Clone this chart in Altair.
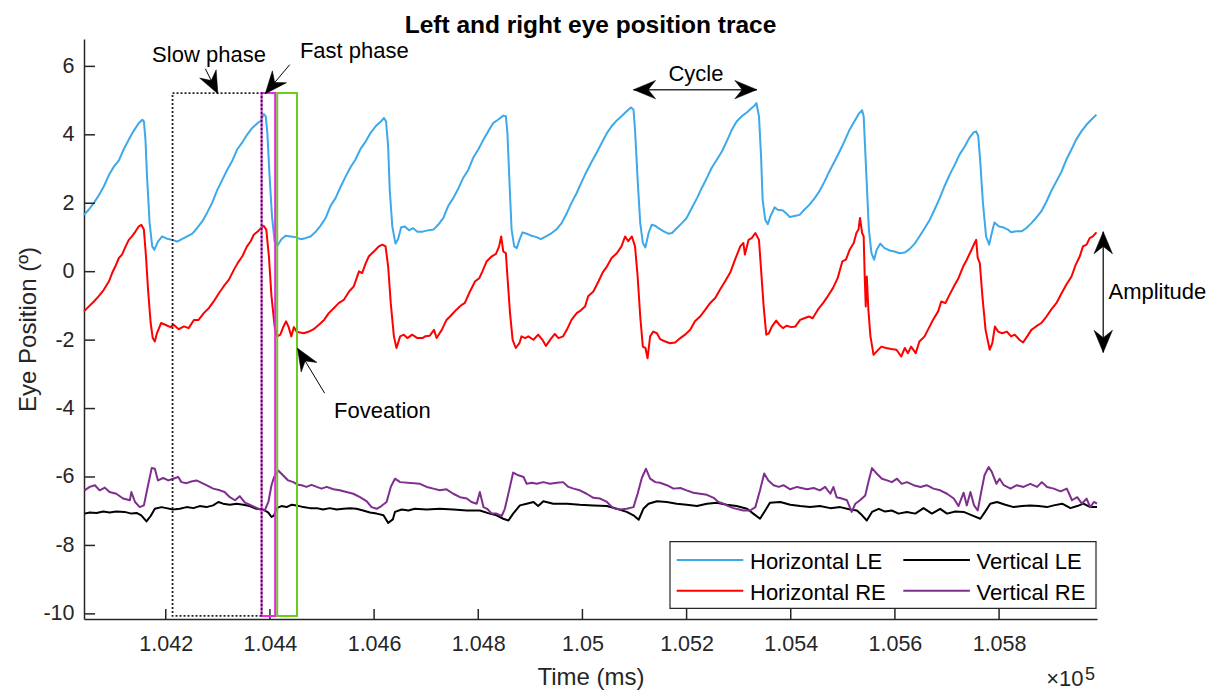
import altair as alt
import pandas as pd

FONT = "Liberation Sans"

# ---------------- data (time in ms, position in degrees) ----------------
HLE_T = [104043, 104052, 104062, 104071, 104081, 104091, 104100, 104110, 104119, 104129,
         104139, 104148, 104155, 104158, 104161, 104164, 104169, 104174, 104178, 104185,
         104193, 104203, 104212, 104222, 104231, 104241, 104251, 104260, 104270, 104279,
         104289, 104299, 104308, 104318, 104328, 104337, 104347, 104356, 104366, 104376,
         104383, 104388, 104392, 104395, 104399, 104404, 104409, 104415, 104422, 104430,
         104440, 104449, 104459, 104468, 104478, 104488, 104497, 104507, 104516, 104526,
         104536, 104545, 104555, 104564, 104574, 104584, 104593, 104603, 104613, 104619,
         104623, 104627, 104630, 104635, 104641, 104646, 104652, 104659, 104667, 104675,
         104683, 104693,
         104701, 104714, 104723, 104733, 104742, 104752, 104762, 104771, 104781, 104790,
         104800, 104810, 104819, 104829, 104838, 104848, 104853, 104856, 104860, 104864,
         104869, 104874, 104879, 104885, 104893, 104902, 104912, 104920, 104930, 104941,
         104951, 104960, 104970, 104979, 104989, 104999, 105008, 105018, 105027, 105037,
         105047, 105056, 105066, 105075, 105085, 105093, 105098, 105101, 105106, 105111,
         105116, 105121, 105127, 105133, 105140, 105146, 105156, 105165, 105172, 105181,
         105191, 105200, 105210, 105220, 105229, 105239, 105248, 105258, 105268, 105277,
         105287, 105296, 105306, 105316, 105325, 105332,
         105334, 105339, 105343, 105346, 105351, 105356, 105361, 105369, 105375, 105385,
         105391, 105398, 105407, 105417, 105426, 105436, 105446, 105455, 105465, 105474,
         105484, 105494, 105503, 105513, 105522, 105531, 105537, 105540, 105545, 105550,
         105555, 105560, 105565, 105572, 105580, 105590, 105599, 105609, 105619, 105628,
         105638, 105647, 105657, 105667, 105676, 105686, 105695, 105705, 105715, 105724,
         105734, 105743, 105751, 105756, 105760, 105764, 105769, 105775, 105781, 105786,
         105791, 105800, 105807, 105817, 105823, 105833, 105843, 105852, 105862, 105871,
         105881, 105891, 105900, 105910, 105920, 105929, 105939, 105948, 105958, 105968,
         105977, 105987]
HLE_V = [1.66, 1.81, 2.01, 2.22, 2.49, 2.83, 3.06, 3.25, 3.57, 3.86,
         4.13, 4.34, 4.44, 4.39, 3.86, 2.78, 1.42, 0.74, 0.64, 0.88,
         1.03, 0.96, 0.93, 0.88, 0.95, 1.03, 1.11, 1.27, 1.47, 1.71,
         2.01, 2.39, 2.67, 2.98, 3.25, 3.57, 3.78, 4.00, 4.20, 4.34,
         4.42, 4.61, 4.54, 4.05, 2.88, 1.61, 0.88, 0.77, 0.95, 1.05,
         1.03, 1.01, 0.95, 0.98, 1.03, 1.17, 1.34, 1.57, 1.91, 2.15,
         2.49, 2.77, 3.06, 3.27, 3.59, 3.81, 4.05, 4.25, 4.39, 4.49,
         4.39, 3.66, 2.39, 1.32, 0.82, 0.95, 1.30, 1.32, 1.21, 1.27,
         1.17, 1.17,
         1.20, 1.23, 1.37, 1.57, 1.91, 2.15, 2.44, 2.74, 2.98, 3.32,
         3.57, 3.86, 4.10, 4.35, 4.44, 4.56, 4.54, 4.05, 2.59, 1.23,
         0.74, 0.69, 0.93, 1.15, 1.11, 1.05, 1.01, 0.95, 1.03, 1.13,
         1.25, 1.42, 1.71, 2.01, 2.30, 2.64, 2.93, 3.22, 3.47, 3.76,
         4.05, 4.25, 4.42, 4.54, 4.69, 4.80, 4.74, 4.15, 2.69, 1.42,
         0.84, 0.71, 1.13, 1.37, 1.34, 1.27, 1.18, 1.11, 1.13, 1.27,
         1.42, 1.57, 1.86, 2.15, 2.44, 2.74, 3.03, 3.27, 3.52, 3.81,
         4.15, 4.39, 4.54, 4.66, 4.78, 4.88,
         4.93, 4.54, 3.37, 2.10, 1.52, 1.39, 1.62, 1.88, 1.81, 1.79,
         1.71, 1.60, 1.63, 1.66, 1.81, 1.96, 2.15, 2.35, 2.64, 2.93,
         3.22, 3.52, 3.81, 4.15, 4.39, 4.62, 4.72, 4.54, 2.88, 1.23,
         0.54, 0.35, 0.64, 0.82, 0.69, 0.62, 0.59, 0.54, 0.56, 0.66,
         0.82, 1.03, 1.27, 1.52, 1.81, 2.15, 2.49, 2.83, 3.13, 3.42,
         3.66, 3.91, 4.07, 4.10, 3.96, 3.18, 2.01, 1.03, 0.79, 1.13,
         1.44, 1.32, 1.30, 1.23, 1.15, 1.18, 1.18, 1.27, 1.42, 1.57,
         1.76, 2.05, 2.35, 2.64, 2.93, 3.27, 3.57, 3.86, 4.10, 4.30,
         4.44, 4.59]

HRE_T = [104043, 104052, 104062, 104071, 104081, 104091, 104097, 104103, 104110, 104116,
         104123, 104129, 104135, 104142, 104148, 104153, 104158, 104162, 104166, 104171,
         104175, 104179, 104183, 104191, 104199, 104209, 104215, 104225, 104235, 104244,
         104254, 104263, 104273, 104283, 104292, 104302, 104312, 104321, 104331, 104338,
         104347, 104356, 104363, 104369, 104377, 104383, 104388, 104393, 104398, 104403,
         104409, 104414, 104420, 104426, 104431, 104436, 104441, 104446, 104451, 104458,
         104465, 104475, 104484, 104494, 104504, 104513, 104523, 104532, 104542, 104552,
         104561, 104571, 104577, 104584, 104590, 104596, 104603, 104609, 104616, 104622,
         104627, 104632, 104638, 104643, 104650, 104657, 104664, 104673, 104683, 104693,
         104698, 104707, 104715, 104720, 104730, 104739, 104749, 104758, 104768, 104774,
         104784, 104794, 104802, 104808, 104816, 104826, 104834, 104840, 104844, 104848,
         104853, 104856, 104861, 104866, 104872, 104879, 104883, 104890, 104896, 104906,
         104915, 104924, 104930, 104939, 104947, 104954, 104963, 104970, 104979, 104989,
         104997, 105005, 105011, 105021, 105031, 105039, 105047, 105056, 105066, 105075,
         105082, 105088, 105095, 105101, 105106, 105111, 105116, 105121, 105125, 105130,
         105136, 105143, 105149, 105159, 105168, 105178, 105188, 105197, 105207, 105216,
         105226, 105236, 105245, 105255, 105264, 105274, 105284, 105293, 105303, 105309,
         105312, 105319, 105325, 105332,
         105339, 105343, 105348, 105353, 105358, 105364, 105372, 105378, 105385, 105392,
         105401, 105409, 105418, 105426, 105435, 105442, 105452, 105462, 105471, 105481,
         105490, 105499, 105506, 105513, 105521, 105526, 105530, 105533, 105537, 105540,
         105542, 105544, 105546, 105549, 105553, 105559, 105565, 105574, 105583, 105593,
         105603, 105612, 105619, 105625, 105631, 105640, 105647, 105657, 105665, 105673,
         105683, 105689, 105697, 105705, 105715, 105722, 105731, 105738, 105747, 105753,
         105756, 105759, 105763, 105768, 105774, 105782, 105787, 105792, 105798, 105806,
         105815, 105823, 105830, 105839, 105846, 105854, 105862, 105871, 105881, 105891,
         105900, 105910, 105920, 105929, 105939, 105947, 105955, 105961, 105968, 105974,
         105980, 105987]
HRE_V = [-1.16, -1.02, -0.87, -0.72, -0.53, -0.28, -0.04, 0.15, 0.40, 0.50,
         0.74, 0.93, 1.03, 1.18, 1.32, 1.37, 1.23, 0.45, -0.53, -1.50,
         -1.94, -2.04, -1.80, -1.50, -1.55, -1.62, -1.55, -1.68, -1.60, -1.65,
         -1.41, -1.41, -1.21, -1.06, -0.87, -0.63, -0.41, -0.24, 0.06, 0.25,
         0.45, 0.74, 0.89, 1.08, 1.18, 1.28, 1.34, 1.23, 0.45, -0.72,
         -1.60, -1.89, -1.84, -1.60, -1.45, -1.62, -1.89, -1.62, -1.75, -1.78,
         -1.80, -1.75, -1.68, -1.55, -1.41, -1.21, -1.06, -0.92, -0.82, -0.58,
         -0.43, 0.01, -0.04, 0.25, 0.45, 0.54, 0.64, 0.74, 0.79, 0.74,
         0.15, -0.92, -1.89, -2.23, -1.89, -1.84, -1.94, -1.84, -1.94, -1.94,
         -1.89, -1.87, -1.70, -1.94, -1.70, -1.41, -1.26, -1.11, -0.97, -0.92,
         -0.58, -0.28, -0.19, 0.01, 0.30, 0.45, 0.52, 0.74, 1.03, 0.59,
         0.54, -0.14, -1.21, -1.99, -2.23, -2.09, -1.89, -1.94, -1.89, -1.99,
         -1.84, -2.01, -2.17, -1.97, -1.82, -1.94, -1.89, -1.70, -1.41, -1.21,
         -1.13, -1.02, -0.72, -0.58, -0.28, -0.02, 0.15, 0.40, 0.54, 0.74,
         1.03, 0.89, 1.03, 0.74, -0.14, -1.31, -2.19, -2.23, -2.53, -1.89,
         -1.75, -1.80, -1.97, -2.04, -2.09, -2.07, -1.94, -1.84, -1.70, -1.45,
         -1.31, -1.11, -0.92, -0.77, -0.53, -0.28, -0.02, 0.35, 0.74, 0.84,
         0.50, 0.93, 0.98, 1.13,
         0.93, 0.06, -1.02, -1.84, -1.80, -1.60, -1.43, -1.55, -1.65, -1.58,
         -1.62, -1.60, -1.41, -1.36, -1.31, -1.36, -1.11, -0.92, -0.72, -0.48,
         -0.19, 0.30, 0.35, 0.64, 0.84, 1.13, 1.23, 1.57, 1.13, 1.03,
         -0.14, -1.02, -0.14, -1.11, -1.89, -2.43, -2.33, -2.19, -2.23, -2.26,
         -2.28, -2.48, -2.23, -2.38, -2.19, -2.38, -2.04, -1.89, -1.65, -1.41,
         -1.16, -0.87, -0.92, -0.67, -0.38, -0.19, 0.15, 0.35, 0.64, 0.84,
         0.93, 0.40, 0.25, -0.72, -1.70, -2.28, -2.09, -1.60, -1.75, -1.80,
         -1.75, -1.89, -1.84, -1.99, -2.07, -1.89, -1.70, -1.60, -1.50, -1.31,
         -1.11, -0.92, -0.63, -0.38, -0.14, 0.20, 0.45, 0.74, 0.79, 0.98,
         1.03, 1.15]

VRE_T = [104044, 104054, 104064, 104073, 104083, 104092, 104105, 104118, 104131, 104134,
         104141, 104150, 104158, 104166, 104173, 104179, 104185, 104195, 104205, 104214,
         104224, 104230, 104240, 104249, 104259, 104269, 104278, 104291, 104304, 104313,
         104323, 104333, 104342, 104352, 104361, 104371, 104381, 104390, 104397, 104403,
         104408, 104416, 104425, 104435, 104445, 104454, 104461, 104470, 104480, 104490,
         104499, 104509, 104522, 104534, 104547, 104560, 104573, 104586, 104595, 104605,
         104614, 104624, 104632, 104640, 104650,
         104688, 104701, 104714, 104726, 104739, 104752, 104765, 104778, 104787, 104797,
         104803, 104810, 104817, 104826, 104835, 104845, 104851, 104860, 104867, 104877,
         104887, 104893, 104903, 104912, 104925, 104938, 104951, 104963, 104973, 104983,
         104995, 105008, 105021, 105034, 105047, 105059, 105072, 105085, 105098, 105106,
         105114, 105122, 105130, 105140, 105149, 105162, 105175, 105188, 105200, 105213,
         105226, 105239, 105252, 105261, 105271, 105280, 105290, 105309, 105322, 105332,
         105341, 105349, 105357, 105367, 105377, 105386, 105399, 105412,
         105431, 105444, 105456, 105466, 105476, 105482, 105488, 105498, 105508, 105517,
         105524, 105533, 105543, 105549, 105556, 105565, 105575, 105585, 105594, 105604,
         105613, 105623, 105636, 105649, 105661, 105674, 105687, 105700, 105713, 105722,
         105732, 105738, 105745, 105752, 105759, 105765, 105772, 105780, 105786, 105795,
         105801, 105809, 105822, 105834, 105847, 105860, 105873, 105882, 105892, 105905,
         105918, 105930, 105940, 105950, 105959, 105968, 105975, 105982, 105988]
VRE_V = [-6.39, -6.29, -6.24, -6.39, -6.31, -6.44, -6.49, -6.63, -6.68, -6.44,
         -6.73, -6.88, -6.83, -6.24, -5.74, -5.76, -6.10, -6.03, -6.10, -6.05,
         -6.00, -6.15, -6.18, -6.13, -6.10, -6.17, -6.24, -6.34, -6.39, -6.44,
         -6.59, -6.68, -6.56, -6.75, -6.81, -6.88, -6.95, -6.98, -6.73, -6.24,
         -6.00, -5.81, -5.95, -6.10, -6.15, -6.23, -6.24, -6.29, -6.23, -6.29,
         -6.34, -6.29, -6.36, -6.39, -6.44, -6.49, -6.59, -6.71, -6.88, -6.93,
         -6.85, -6.73, -6.29, -6.05, -6.15,
         -6.20, -6.29, -6.34, -6.39, -6.36, -6.49, -6.59, -6.63, -6.73, -6.78,
         -6.44, -6.88, -6.93, -7.07, -7.07, -7.14, -6.93, -6.34, -5.87, -5.95,
         -6.00, -6.20, -6.17, -6.20, -6.15, -6.20, -6.17, -6.15, -6.29, -6.34,
         -6.39, -6.49, -6.61, -6.63, -6.73, -6.91, -6.95, -6.93, -6.88, -6.49,
         -6.03, -5.76, -6.05, -6.15, -6.17, -6.24, -6.34, -6.32, -6.39, -6.46,
         -6.49, -6.52, -6.61, -6.73, -6.78, -6.85, -6.91, -6.98, -6.98, -6.88,
         -6.39, -5.90, -6.10, -6.24, -6.29, -6.24, -6.36, -6.29,
         -6.36, -6.32, -6.39, -6.29, -6.49, -6.29, -6.59, -6.63, -6.68, -7.02,
         -6.78, -6.68, -6.54, -6.15, -5.74, -5.90, -6.05, -6.10, -6.15, -6.05,
         -6.20, -6.15, -6.24, -6.29, -6.24, -6.34, -6.39, -6.49, -6.63, -6.85,
         -6.46, -6.83, -6.44, -6.83, -6.98, -6.49, -5.95, -5.71, -5.85, -6.20,
         -6.05, -6.24, -6.34, -6.24, -6.29, -6.20, -6.29, -6.15, -6.29, -6.34,
         -6.42, -6.34, -6.68, -6.59, -6.78, -6.63, -6.88, -6.73, -6.78]

VLE_T = [104044, 104054, 104067, 104080, 104092, 104105, 104121, 104134, 104144, 104153,
         104163, 104171, 104179, 104192, 104201, 104214, 104227, 104240, 104253, 104265,
         104278, 104291, 104301, 104310, 104323, 104336, 104349, 104361, 104374, 104387,
         104397, 104403, 104408, 104413, 104422, 104432, 104442, 104451, 104464, 104477,
         104490, 104502, 104515, 104528, 104541, 104554, 104566, 104579, 104592, 104605,
         104618, 104627, 104636, 104640, 104653, 104666, 104678,
         104701, 104726, 104752, 104778, 104803, 104822, 104835, 104848, 104858, 104867,
         104880, 104893, 104906, 104915, 104925, 104944, 104970, 104995, 105021, 105047,
         105066, 105085, 105098, 105108, 105117, 105127, 105143, 105162, 105181, 105200,
         105220, 105239, 105258, 105277, 105296, 105316, 105328, 105341, 105351, 105360,
         105380, 105399, 105418,
         105437, 105456, 105476, 105495, 105514, 105527, 105537, 105546, 105556, 105569,
         105581, 105594, 105607, 105623, 105639, 105655, 105671, 105687, 105700, 105716,
         105732, 105748, 105764, 105773, 105783, 105796, 105812, 105828, 105844, 105860,
         105876, 105892, 105905, 105921, 105937, 105950, 105962, 105975, 105988]
VLE_V = [-7.07, -7.04, -7.05, -7.01, -7.04, -7.01, -7.02, -7.07, -7.05, -7.12,
         -7.30, -7.14, -6.93, -6.88, -6.91, -6.95, -6.93, -6.88, -6.91, -6.85,
         -6.88, -6.83, -6.73, -6.78, -6.81, -6.78, -6.81, -6.85, -6.93, -6.95,
         -7.04, -7.17, -7.12, -6.91, -6.85, -6.88, -6.81, -6.83, -6.88, -6.91,
         -6.91, -6.95, -6.91, -6.95, -6.93, -6.91, -6.93, -6.98, -7.04, -7.07,
         -7.12, -7.34, -7.24, -7.02, -6.95, -6.98, -6.93,
         -6.95, -6.93, -6.95, -6.98, -6.98, -7.07, -7.12, -7.22, -7.27, -7.07,
         -6.83, -6.78, -6.73, -6.85, -6.71, -6.78, -6.78, -6.81, -6.83, -6.85,
         -6.93, -7.02, -7.12, -7.25, -6.93, -6.78, -6.71, -6.73, -6.78, -6.81,
         -6.85, -6.78, -6.75, -6.81, -6.85, -6.93, -7.07, -7.22, -6.98, -6.75,
         -6.73, -6.81, -6.85,
         -6.88, -6.85, -6.91, -6.88, -6.95, -6.98, -7.12, -7.27, -7.02, -6.93,
         -7.01, -6.98, -7.07, -7.02, -7.07, -6.91, -7.07, -6.93, -7.07, -7.01,
         -7.02, -7.12, -7.22, -7.02, -6.78, -6.73, -6.81, -6.88, -6.85, -6.83,
         -6.85, -6.88, -6.83, -6.78, -6.91, -6.85, -6.78, -6.88, -6.88]

SERIES = ["Horizontal LE", "Vertical LE", "Horizontal RE", "Vertical RE"]   # drawing / legend order
COLORS = ["#3DA8EA", "#000000", "#FF0000", "#7E2F8E"]

X_DOMAIN = [104043, 105988]
Y_DOMAIN = [-10.15, 6.8]
X_TICKS = [104200, 104400, 104600, 104800, 105000, 105200, 105400, 105600, 105800]
Y_TICKS = [-10, -8, -6, -4, -2, 0, 2, 4, 6]

# phase boxes
BOX_NAMES = ["Slow phase", "Fast phase", "Foveation"]
BOX_T1 = [104213, 104384, 104414]
BOX_T2 = [104384, 104410, 104452]
BOX_V1 = [-10.06, -10.06, -10.06]
BOX_V2 = [5.22, 5.22, 5.22]

# text annotations
ANN_TEXT = ["Slow phase", "Fast phase", "Cycle", "Foveation"]
ANN_T = [104283, 104562, 105218, 104616]
ANN_V = [6.34, 6.44, 5.79, -4.07]
AMP_T = [106010]
AMP_V = [-0.60]

# single arrows: tail -> tip
ARW_T1 = [104276, 104438, 104505]
ARW_V1 = [5.93, 6.05, -3.55]
ARW_T2 = [104300, 104391, 104453]
ARW_V2 = [5.20, 5.20, -2.24]
ARW_ANG = [153.3, 219.9, 328.6]
# double arrows (Cycle, Amplitude)
DBL_T1 = [105098, 106000]
DBL_V1 = [5.32, 1.17]
DBL_T2 = [105335, 106000]
DBL_V2 = [5.32, -2.36]
DBL_ANG1 = [270, 0]
DBL_ANG2 = [90, 180]

W, H = 1013, 580
AXC = "#262626"
HEAD = "M0,0 L1,2.4 L0,1.6 L-1,2.4 Z"

x_axis = alt.Axis(values=X_TICKS, labelExpr="format(datum.value / 100000, '.4~f')",
                  title="Time (ms)", grid=False, ticks=True, tickSize=0,
                  labelPadding=14, labelFlush=False, labelOverlap=False,
                  labelFont=FONT, labelFontSize=21.5, labelColor=AXC,
                  titleFont=FONT, titleFontSize=24, titleFontWeight="normal", titleColor=AXC,
                  titleX=W / 2, titleY=58, titleAlign="center", titleBaseline="middle",
                  domainColor=AXC, domainWidth=1.5)
y_axis = alt.Axis(values=Y_TICKS, labelExpr="datum.value + ''",
                  title="Eye Position (º)", grid=False, ticks=True, tickSize=0,
                  labelPadding=10, labelFlush=False, labelOverlap=False,
                  labelFont=FONT, labelFontSize=21.5, labelColor=AXC,
                  titleFont=FONT, titleFontSize=24, titleFontWeight="normal", titleColor=AXC,
                  titleX=-56, titleY=H / 2, titleAngle=-90, titleAlign="center",
                  titleBaseline="middle",
                  domainColor=AXC, domainWidth=1.5)

X = alt.X("t:Q", scale=alt.Scale(domain=X_DOMAIN, nice=False, zero=False), axis=x_axis)
Y = alt.Y("v:Q", scale=alt.Scale(domain=Y_DOMAIN, nice=False, zero=False), axis=y_axis)

layers = []

# traces
for name, color, ts, vs in [("Horizontal LE", COLORS[0], HLE_T, HLE_V),
                            ("Vertical LE", COLORS[1], VLE_T, VLE_V),
                            ("Horizontal RE", COLORS[2], HRE_T, HRE_V),
                            ("Vertical RE", COLORS[3], VRE_T, VRE_V)]:
    df = pd.DataFrame({"t": ts, "v": vs, "series": name})
    layers.append(alt.Chart(df).mark_line(color=color, strokeWidth=2, strokeJoin="round")
                  .encode(x=X, y=Y))

# inward ticks
layers.append(alt.Chart(pd.DataFrame({"t": X_TICKS})).mark_rule(color=AXC, strokeWidth=1.5)
              .encode(x=X, y=alt.value(H), y2=alt.value(H - 10)))
layers.append(alt.Chart(pd.DataFrame({"v": Y_TICKS})).mark_rule(color=AXC, strokeWidth=1.5)
              .encode(y=Y, x=alt.value(0), x2=alt.value(11)))

# phase boxes
boxes = pd.DataFrame({"name": BOX_NAMES, "t": BOX_T1, "t2": BOX_T2, "v": BOX_V1, "v2": BOX_V2})
box_style = {"Foveation": dict(stroke="#6BCB1F", strokeWidth=2),
             "Fast phase": dict(stroke="#E02EE0", strokeWidth=2),
             "Slow phase": dict(stroke="#222222", strokeWidth=1.8, strokeDash=[2, 2])}
for nm in ["Foveation", "Fast phase", "Slow phase"]:
    layers.append(alt.Chart(boxes[boxes["name"] == nm])
                  .mark_rect(fillOpacity=0, clip=False, **box_style[nm])
                  .encode(x=X, x2="t2:Q", y=Y, y2="v2:Q"))

# arrows
arw = pd.DataFrame({"t": ARW_T1, "v": ARW_V1, "t2": ARW_T2, "v2": ARW_V2})
layers.append(alt.Chart(arw).mark_rule(color="black", strokeWidth=1, clip=False)
              .encode(x=X, y=Y, x2="t2:Q", y2="v2:Q"))
heads = pd.DataFrame({"t": ARW_T2, "v": ARW_V2, "ang": ARW_ANG})
dbl = pd.DataFrame({"t": DBL_T1, "v": DBL_V1, "t2": DBL_T2, "v2": DBL_V2})
layers.append(alt.Chart(dbl).mark_rule(color="#333333", strokeWidth=1.5, clip=False)
              .encode(x=X, y=Y, x2="t2:Q", y2="v2:Q"))
dheads = pd.DataFrame({"t": DBL_T1 + DBL_T2, "v": DBL_V1 + DBL_V2, "ang": DBL_ANG1 + DBL_ANG2})
for hd in [heads, dheads]:
    layers.append(alt.Chart(hd).mark_point(shape=HEAD, filled=True, fill="black", stroke="black",
                                           strokeWidth=0.5, size=340, opacity=1, clip=False)
                  .encode(x=X, y=Y, angle=alt.Angle("ang:Q", scale=None)))

# annotation text
ann = pd.DataFrame({"t": ANN_T, "v": ANN_V, "label": ANN_TEXT})
layers.append(alt.Chart(ann).mark_text(font=FONT, fontSize=22, color="black", align="center",
                                       baseline="middle", clip=False)
              .encode(x=X, y=Y, text="label:N"))
amp = pd.DataFrame({"t": AMP_T, "v": AMP_V, "label": ["Amplitude"]})
layers.append(alt.Chart(amp).mark_text(font=FONT, fontSize=22, color="black", align="left",
                                       baseline="middle", clip=False)
              .encode(x=X, y=Y, text="label:N"))

# legend
one = alt.Data(values=[{"k": 1}])
layers.append(alt.Chart(one).mark_rect(fill="white", stroke=AXC, strokeWidth=1.2)
              .encode(x=alt.value(586), x2=alt.value(1012), y=alt.value(502.7), y2=alt.value(569.3)))
LEG_POS = [(592.7, 521), (819.3, 521), (592.7, 551.7), (819.3, 551.7)]
for name, color, (lx, ly) in zip(SERIES, COLORS, LEG_POS):
    layers.append(alt.Chart(one).mark_rule(color=color, strokeWidth=2)
                  .encode(x=alt.value(lx), x2=alt.value(lx + 66.6), y=alt.value(ly)))
    layers.append(alt.Chart(one).mark_text(font=FONT, fontSize=22, color="black", align="left",
                                           baseline="middle", text=name)
                  .encode(x=alt.value(lx + 73.3), y=alt.value(ly + 1.8)))

# x10^5 multiplier
layers.append(alt.Chart(one).mark_text(font=FONT, fontSize=22, color=AXC, align="right",
                                       baseline="alphabetic", text="×10")
              .encode(x=alt.value(999.5), y=alt.value(647)))
layers.append(alt.Chart(one).mark_text(font=FONT, fontSize=18, color=AXC, align="left",
                                       baseline="alphabetic", text="5")
              .encode(x=alt.value(1001), y=alt.value(641)))

chart = alt.layer(*layers).properties(
    width=W, height=H,
    title=alt.TitleParams("Left and right eye position trace", font=FONT, fontSize=24.5,
                          fontWeight="bold", color="black", anchor="middle", frame="group",
                          baseline="alphabetic", offset=8, dy=26),
    autosize=alt.AutoSizeParams(type="none"),
    padding={"left": 84, "top": 39, "right": 120, "bottom": 72},
    background="white",
).configure_view(strokeWidth=0)

chart.save("out.html", embed_options={"renderer": "svg", "actions": False})
